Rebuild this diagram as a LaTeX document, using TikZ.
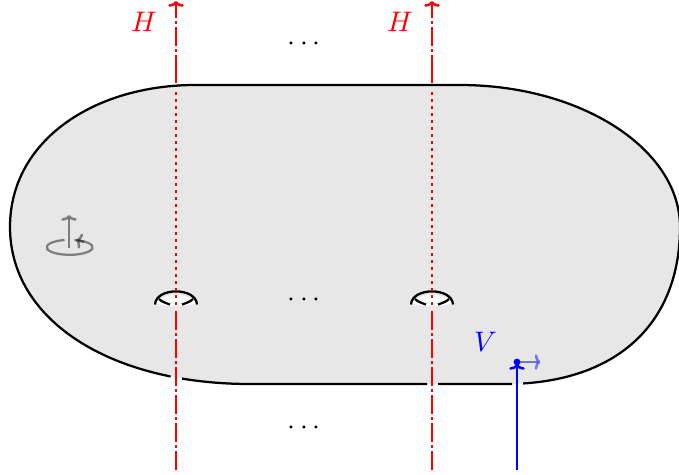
\documentclass[tikz,border=0pt]{standalone}
\usetikzlibrary{arrows.meta}
\tikzset{
  px/.style={x=0.4pt,y=-0.4pt},
  tip/.style={-{Computer Modern Rightarrow[length=2.3pt,width=6.2pt,line width=1pt]}},
  outline/.style={line width=0.9pt,black},
  hlineA/.style={line width=1pt,red,dash pattern=on 7.8pt off 1pt on 1.2pt off 1.2pt},
  hlineC/.style={line width=1pt,red,dash pattern=on 11.4pt off 1pt on 1.2pt off 1.2pt on 7.8pt off 1pt on 1.2pt off 1.2pt on 7.8pt off 1pt},
  hlineB/.style={line width=1pt,red,dash pattern=on 1.2pt off 1.6pt},
  vline/.style={line width=0.9pt,blue},
  hlabel/.style={red,inner sep=0pt,scale=1.13},
  dots/.style={inner sep=0pt,scale=1.13},
  icon/.style={line width=0.9pt,black,draw opacity=0.45,fill opacity=0.45},
}
\begin{document}
\begin{tikzpicture}[px]
\useasboundingbox (0,0) rectangle (679,474);
\clip (0,0) rectangle (679,474);
% surface
\def\surface{(195,85) -- (460,85) .. controls (581,85) and (680,149) .. (680,227)
  .. controls (680,325) and (615,384) .. (505,384) -- (250,384)
  .. controls (110,384) and (10,320) .. (10,227)
  .. controls (10,140) and (95,85) .. (195,85) -- cycle}
\fill[black!9.5] \surface;
\begin{scope}[even odd rule]
  \clip (-5,-5) rectangle (690,480)
     (170.5,370) rectangle (182,395)
     (427,370) rectangle (438,395)
     (512,370) rectangle (523,395);
  \draw[outline] \surface;
\end{scope}
% holes
\foreach \c/\n in {176/a,432/b}{
  \fill[white] (\c-21,303) .. controls (\c-12,292) and (\c+12,292) .. (\c+21,303)
     .. controls (\c+10,307) and (\c-10,307) .. (\c-21,303) -- cycle;
  \draw[outline] (\c-21,304.5) .. controls (\c-20,287) and (\c+20,287) .. (\c+21,304.5);
  \draw[outline] (\c-17,299) .. controls (\c-14,302) and (\c-10,303) .. (\c-6,304.5);
  \draw[outline] (\c+17,299) .. controls (\c+14,302) and (\c+10,303) .. (\c+6,304.5);
  % H lines
  \coordinate (lowb\n) at (\c,470);
  \coordinate (lowt\n) at (\c,311);
  \coordinate (midb\n) at (\c,305);
  \coordinate (midt\n) at (\c,88);
  \coordinate (topb\n) at (\c,83);
  \coordinate (topt\n) at (\c,1);
  \draw[hlineA] (lowb\n) -- (lowt\n);
  \draw[hlineB] (midb\n) -- (midt\n);
  \draw[hlineC,tip] (topb\n) -- (topt\n);
}
\node[hlabel] (h1) at (144,22) {$H$};
\node[hlabel] (h2) at (400,22) {$H$};
\node[dots] (d1) at (304,44) {$\cdots$};
\node[dots] (d2) at (304,300) {$\cdots$};
\node[dots] (d3) at (304,428) {$\cdots$};
% V
\coordinate (vb) at (517,470);
\coordinate (vt) at (517,362);
\coordinate (ve) at (540.5,362);
\coordinate (vn) at (517,364);
\draw[line width=0.9pt,blue,draw opacity=0.5,fill opacity=0.5,tip] (vt) -- (ve);
\draw[vline,tip] (vb) -- (vn);
\fill[blue] (vt) circle (3.4);
\node[blue,inner sep=0pt,scale=1.13] (v) at (485.5,342) {$V$};
% icon
\coordinate (ia) at (69,248);
\coordinate (ib) at (69,215);
\coordinate (ic) at (84,242);
\coordinate (id) at (76,240);
\draw[icon] (64.5,240) arc[start angle=-103,end angle=-438,x radius=23,y radius=7.5];
\draw[icon,tip] (ia) -- (ib);
\draw[icon,tip] (ic) -- (id);
\end{tikzpicture}
\end{document}
